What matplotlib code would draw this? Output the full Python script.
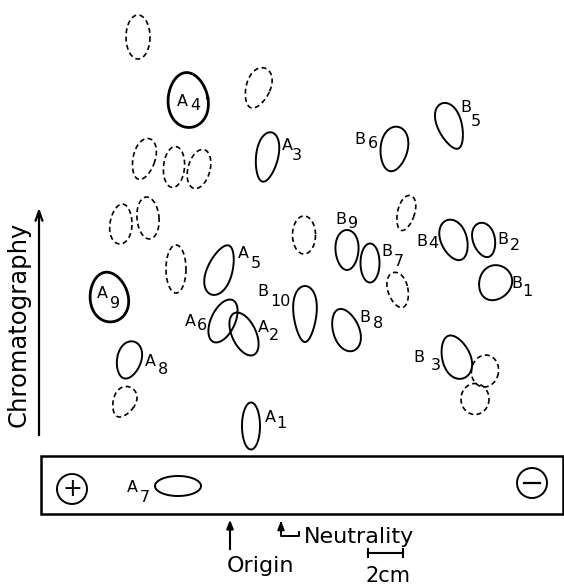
import numpy as np
import matplotlib.pyplot as plt
from matplotlib.patches import Polygon, Rectangle, Circle

# spots on the peptide map (image pixel coords, y down)
solid_x = [188, 267, 220, 109, 223, 244, 129, 251, 178, 305, 346, 394, 450, 347, 370, 454, 484, 495, 456]
solid_y = [100, 157, 270, 297, 321, 334, 360, 426, 486, 314, 330, 149, 126, 250, 263, 240, 240, 283, 357]
solid_w = [40, 22, 25, 38, 24, 24, 24, 18, 46, 23, 26, 27, 24, 23, 19, 26, 22, 32, 28]
solid_h = [55, 50, 52, 50, 46, 46, 38, 47, 20, 56, 44, 45, 48, 40, 39, 42, 35, 36, 45]
solid_a = [-5, 10, 20, -10, 25, -25, 15, 0, 0, 0, -20, 10, -20, 0, 0, -20, -15, 30, -20]
solid_k = [0.1, -0.15, 0.18, 0.1, 0.0, 0.0, -0.12, 0.0, 0.0, -0.25, 0.1, -0.12, -0.2, -0.1, 0.0, -0.1, -0.1, -0.1, 0.15]
solid_lw = [2.0, 1.4, 1.4, 2.0, 1.4, 1.4, 1.4, 1.4, 1.4, 1.4, 1.4, 1.4, 1.4, 1.4, 1.4, 1.4, 1.4, 1.4, 1.4]

dash_x = [138, 258, 144, 174, 199, 121, 148, 176, 304, 406, 398, 124, 485, 475]
dash_y = [37, 88, 159, 167, 169, 224, 218, 269, 235, 213, 290, 402, 371, 399]
dash_w = [24, 24, 22, 21, 22, 22, 22, 20, 23, 17, 20, 22, 27, 28]
dash_h = [44, 42, 42, 41, 40, 40, 42, 48, 38, 36, 36, 32, 32, 31]
dash_a = [0, 20, 15, 5, 15, 5, -5, 0, 0, 15, -15, 25, 10, 0]
dash_k = [0.0, -0.15, -0.1, 0.0, 0.0, 0.1, 0.0, 0.0, 0.0, -0.1, -0.1, -0.2, 0.0, 0.0]

# labels: letter, number, letter position, number position
lab_letter = ["A", "A", "B", "B", "B", "B", "B", "B", "B", "A", "B", "A", "A", "A", "B", "A", "B", "A", "A"]
lab_num = ["4", "3", "6", "5", "9", "7", "4", "2", "1", "5", "10", "9", "6", "2", "8", "8", "3", "1", "7"]
lab_lx = [182, 287, 360, 466, 341, 387, 422, 503, 517, 243, 263, 102, 190, 263, 365, 150, 419, 270, 132]
lab_ly = [102, 146, 139, 107, 219, 251, 241, 239, 284, 254, 292, 294, 321, 327, 317, 361, 357, 417, 488]
lab_nx = [195, 297, 373, 476, 353, 399, 433, 515, 527, 256, 280, 115, 202, 274, 378, 163, 436, 281, 145]
lab_ny = [106, 156, 143, 121, 224, 262, 244, 246, 292, 263, 301, 304, 326, 336, 323, 369, 366, 424, 497]


def blob(x, y, w, h, a, k):
    # egg-shaped outline: k < 0 gives a wide top, k > 0 a wide bottom
    t = np.linspace(0, 2 * np.pi, 120)
    px = w / 2 * np.cos(t) * (1 + k * np.sin(t))
    py = h / 2 * np.sin(t)
    r = np.radians(a)
    qx = px * np.cos(r) - py * np.sin(r)
    qy = px * np.sin(r) + py * np.cos(r)
    return np.column_stack([x + qx, y + qy])


fig = plt.figure(figsize=(5.64, 5.85), dpi=100)
ax = fig.add_axes([0, 0, 1, 1])
ax.set_xlim(0, 564)
ax.set_ylim(585, 0)
ax.axis('off')

for i in range(len(solid_x)):
    pts = blob(solid_x[i], solid_y[i], solid_w[i], solid_h[i], solid_a[i], solid_k[i])
    ax.add_patch(Polygon(pts, closed=True, fill=False, ec='black', lw=solid_lw[i], joinstyle='round'))
for i in range(len(dash_x)):
    pts = blob(dash_x[i], dash_y[i], dash_w[i], dash_h[i], dash_a[i], dash_k[i])
    ax.add_patch(Polygon(pts, closed=True, fill=False, ec='black', lw=1.2, ls=(0, (3, 2))))

for i in range(len(lab_letter)):
    ax.text(lab_lx[i], lab_ly[i], lab_letter[i], fontsize=11.5, ha='center', va='center')
    ax.text(lab_nx[i], lab_ny[i], lab_num[i], fontsize=11.5, ha='center', va='center')

# chromatography axis
ax.annotate("", xy=(39, 205), xytext=(39, 438),
            arrowprops=dict(arrowstyle='->,head_length=0.7,head_width=0.25', lw=1.6, color='black'))
ax.text(19, 324, "Chromatography", rotation=90, fontsize=17.5, ha='center', va='center')

# electrophoresis strip
ax.add_patch(Rectangle((41, 456), 522, 58, fill=False, ec='black', lw=1.8))
ax.add_patch(Circle((72, 489), 15, fill=False, ec='black', lw=1.4))
ax.text(72, 489, "+", fontsize=17, ha='center', va='center')
ax.add_patch(Circle((532, 483), 15, fill=False, ec='black', lw=1.4))
ax.plot([524, 540], [483, 483], color='black', lw=1.6)

# origin / neutrality markers
ax.annotate("", xy=(230, 517), xytext=(230, 552),
            arrowprops=dict(arrowstyle='-|>,head_length=0.5,head_width=0.2', lw=1.5, color='black'))
ax.text(260, 566, "Origin", fontsize=16, ha='center', va='center')
ax.plot([281, 281, 299, 299], [524, 536, 536, 532], color='black', lw=1.4)
ax.annotate("", xy=(281, 518), xytext=(281, 528),
            arrowprops=dict(arrowstyle='-|>,head_length=0.5,head_width=0.2', lw=1.4, color='black'))
ax.text(304, 537, "Neutrality", fontsize=16, ha='left', va='center')

# scale bar
ax.plot([368, 403], [553, 553], color='black', lw=1.5)
ax.plot([368, 368], [549, 557], color='black', lw=1.5)
ax.plot([403, 403], [549, 557], color='black', lw=1.5)
ax.text(388, 576, "2cm", fontsize=15, ha='center', va='center')

fig.savefig("out.png", dpi=100)
